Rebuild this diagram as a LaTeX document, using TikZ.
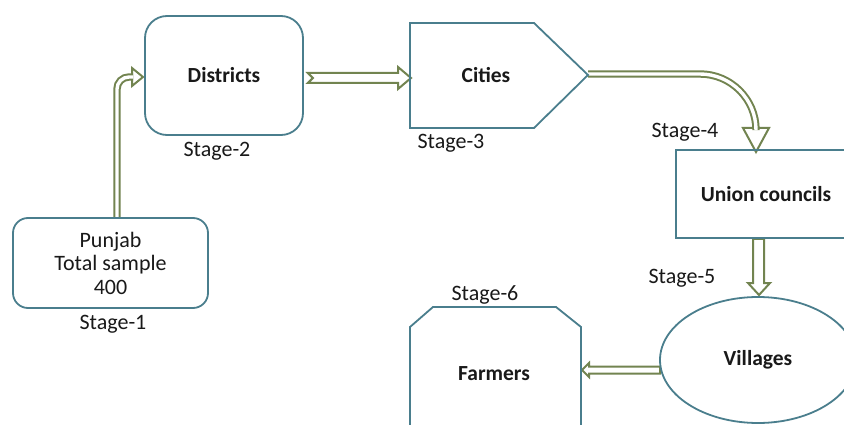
\documentclass[tikz,border=0pt]{standalone}
\usepackage{fontspec}
\setmainfont{Carlito}
\usetikzlibrary{shapes.geometric,calc}
\definecolor{boxc}{RGB}{74,126,141}
\definecolor{arrc}{RGB}{114,132,80}
\pgfdeclarelayer{bg}
\pgfsetlayers{bg,main}
\begin{document}
\begin{tikzpicture}[x=1pt,y=-1pt,
  boxline/.style={draw=boxc,line width=1.8pt},
  lbl/.style={font=\fontsize{21.5}{25}\selectfont\bfseries,text=black!90},
  stg/.style={font=\fontsize{22}{24}\selectfont,text=black!90},
  arr/.style={draw=arrc,line width=2pt,fill=white,line join=miter},
  shaft/.style={draw=arrc,line width=2pt,double=white,double distance=3.4pt}]
\clip (0,0) rectangle (844,425);

% boxes
\node[boxline,rounded corners=15pt,minimum width=195pt,minimum height=90pt,
      font=\fontsize{22}{23.5}\selectfont,text=black!90,align=center]
      (punjab) at (110.5,263) {Punjab\\Total sample\\400};
\node[boxline,rounded corners=22pt,minimum width=158pt,minimum height=119pt,lbl]
      (districts) at (224,75.5) {Districts};
\draw[boxline] (410,23) -- (534,23) -- (588,75) -- (534,128) -- (410,128) -- cycle;
\node[lbl] (cities) at (486,75) {Cities};
\coordinate (citytip) at (588,74);
\node[boxline,minimum width=180pt,minimum height=88pt,lbl]
      (union) at (766,194) {Union councils};
\node[boxline,ellipse,minimum width=196pt,minimum height=126pt,lbl]
      (villages) at (758,360) {Villages};
\draw[boxline] (410,440) -- (410,327) -- (433,307) -- (556,307) -- (581,327) -- (581,440);
\node[lbl] (farmers) at (494,374) {Farmers};

% stage labels
\node[stg] (s1) at (113,324) {Stage-1};
\node[stg] (s2) at (217,151) {Stage-2};
\node[stg] (s3) at (451,143) {Stage-3};
\node[stg] (s4) at (685,132) {Stage-4};
\node[stg] (s5) at (682,278) {Stage-5};
\node[stg] (s6) at (485,295) {Stage-6};

% arrows
\begin{pgfonlayer}{bg}
  \fill[white] (0,0) rectangle (844,425);
  % Punjab -> Districts
  \draw[arr] (132,68) -- (143,77) -- (132,86) -- cycle;
  \draw[shaft,rounded corners=12pt] ($(punjab.north)+(6.5,0)$) |- (133,77);
  % Districts -> Cities
  \draw[arr] ($(districts.east)+(4,-2.5)$) -- (398,73) -- (398,67) -- (411,78)
     -- (398,89) -- (398,83) -- ($(districts.east)+(4,7.5)$) -- ($(districts.east)+(9,2.5)$) -- cycle;
  % Cities -> Union councils
  \draw[arr] (743,128) -- (769,128) -- (756,152) -- cycle;
  \draw[shaft,rounded corners=56pt] (citytip) -| (756,129);
  % Union councils -> Villages
  \draw[arr] ($(union.south)+(-13,0)$) -- ($(union.south)+(-2,0)$) -- (764,283) -- (770,283)
     -- (759,295) -- (748,283) -- (753,283) -- cycle;
  % Villages -> Farmers
  \draw[arr] ($(villages.west)+(1,6.5)$) -- ($(villages.west)+(1,13.5)$) -- (589,373.5) -- (589,377)
     -- (582,370) -- (589,363) -- (589,366.5) -- cycle;
\end{pgfonlayer}
\end{tikzpicture}
\end{document}
